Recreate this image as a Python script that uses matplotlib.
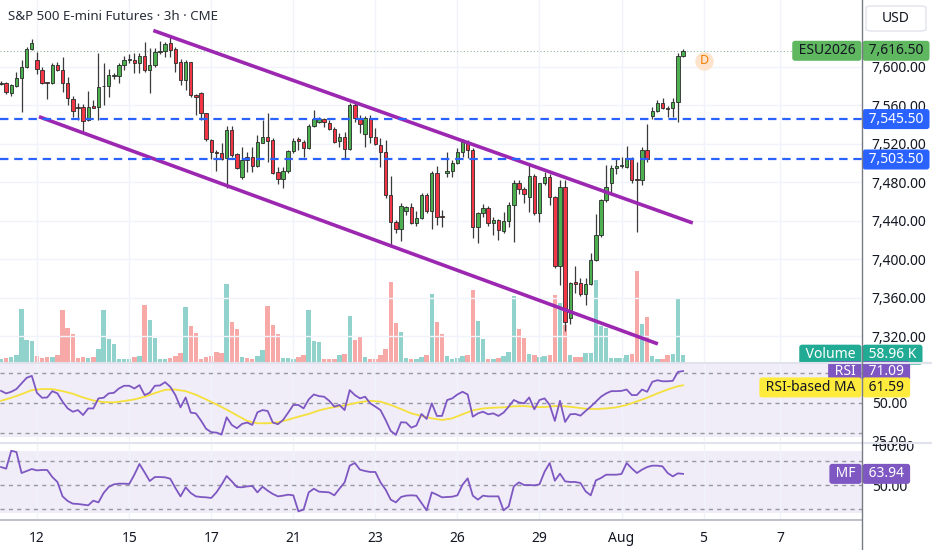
import numpy as np
import matplotlib.pyplot as plt
from matplotlib import transforms
from matplotlib.patches import FancyBboxPatch

plt.rcParams['font.family'] = ['Noto Sans', 'DejaVu Sans']

# 3h bars, oldest first
opens = [7582.0, 7582.7, 7573.0, 7579.9, 7587.9, 7600.0, 7618.0, 7606.9, 7596.5, 7584.1,
         7583.4, 7601.7, 7596.5, 7582.7, 7566.4, 7558.1, 7558.4, 7544.6, 7559.1, 7557.7,
         7579.6, 7579.9, 7590.3, 7590.3, 7601.4, 7607.3, 7607.3, 7604.2, 7611.1, 7596.5,
         7601.4, 7615.2, 7616.3, 7624.3, 7618.0, 7605.2, 7586.1, 7604.5, 7570.6, 7572.3,
         7551.5, 7523.8, 7511.3, 7510.6, 7504.7, 7534.2, 7509.2, 7485.0, 7505.8, 7506.5,
         7496.8, 7521.0, 7527.3, 7523.8, 7490.2, 7483.6, 7491.9, 7512.7, 7524.5, 7522.1,
         7515.1, 7538.3, 7542.8, 7545.3, 7541.1, 7534.9, 7522.4, 7526.6, 7514.1, 7560.2,
         7546.3, 7530.0, 7546.3, 7527.3, 7518.9, 7511.3, 7466.3, 7438.2, 7431.3, 7450.4,
         7454.5, 7437.2, 7442.7, 7466.3, 7450.4, 7489.2, 7444.5, 7489.8, 7492.0, 7499.5,
         7511.7, 7521.7, 7513.4, 7433.0, 7448.3, 7452.8, 7437.2, 7440.7, 7429.6, 7439.6,
         7456.2, 7479.5, 7472.5, 7464.2, 7486.4, 7447.6, 7478.8, 7485.7, 7464.2, 7392.9,
         7475.3, 7338.5, 7376.6, 7374.8, 7363.8, 7374.2, 7399.1, 7425.1, 7461.4, 7479.5,
         7494.4, 7497.1, 7496.1, 7503.7, 7483.3, 7482.2, 7513.4, 7548.7, 7554.3, 7561.9,
         7557.0, 7556.7, 7563.6, 7611.1]
highs = [7584.8, 7584.4, 7582.0, 7594.8, 7606.9, 7620.8, 7628.4, 7615.6, 7599.3, 7584.4,
         7603.5, 7605.2, 7609.7, 7588.9, 7569.5, 7562.6, 7561.2, 7575.1, 7565.4, 7613.9,
         7603.5, 7597.2, 7593.1, 7604.2, 7611.1, 7613.2, 7613.9, 7613.9, 7626.0, 7619.1,
         7619.1, 7627.0, 7626.0, 7631.2, 7620.1, 7607.6, 7606.9, 7605.2, 7571.6, 7574.0,
         7552.2, 7524.5, 7513.4, 7521.0, 7538.3, 7538.3, 7510.6, 7516.9, 7511.7, 7516.9,
         7529.0, 7544.6, 7551.5, 7525.5, 7496.1, 7496.1, 7513.4, 7525.5, 7527.3, 7523.8,
         7540.4, 7555.0, 7548.0, 7547.0, 7544.6, 7537.0, 7531.4, 7532.5, 7561.9, 7563.6,
         7549.8, 7548.7, 7549.8, 7535.9, 7525.5, 7523.8, 7486.4, 7440.7, 7458.7, 7455.2,
         7458.7, 7450.4, 7468.4, 7469.1, 7491.9, 7496.8, 7451.1, 7511.7, 7503.0, 7515.1,
         7525.2, 7523.8, 7515.1, 7449.3, 7457.3, 7455.2, 7444.1, 7441.4, 7449.3, 7459.7,
         7482.2, 7482.2, 7475.3, 7499.5, 7488.5, 7479.5, 7490.9, 7488.5, 7465.6, 7482.2,
         7482.2, 7376.6, 7392.9, 7380.0, 7380.0, 7406.0, 7446.9, 7462.1, 7497.8, 7497.8,
         7504.7, 7505.8, 7517.6, 7505.8, 7501.3, 7516.2, 7540.4, 7558.4, 7565.4, 7567.1,
         7559.1, 7567.1, 7613.9, 7618.0]
lows = [7580.6, 7571.6, 7569.5, 7579.2, 7553.2, 7599.0, 7617.3, 7592.4, 7582.0, 7566.7,
        7582.0, 7595.8, 7574.0, 7560.2, 7548.0, 7544.6, 7532.5, 7543.9, 7556.7, 7544.6,
        7560.2, 7568.8, 7586.8, 7582.7, 7596.5, 7603.5, 7593.8, 7593.1, 7594.8, 7572.3,
        7600.0, 7613.2, 7610.4, 7609.7, 7594.8, 7581.0, 7575.8, 7568.1, 7549.8, 7544.6,
        7523.1, 7503.7, 7491.9, 7503.0, 7473.6, 7506.5, 7493.3, 7482.9, 7490.9, 7490.9,
        7496.1, 7520.5, 7501.3, 7488.5, 7478.1, 7473.6, 7489.2, 7510.6, 7513.4, 7505.8,
        7514.5, 7537.7, 7541.8, 7537.7, 7534.2, 7521.0, 7516.9, 7503.7, 7513.4, 7542.8,
        7531.4, 7516.2, 7520.5, 7518.6, 7496.1, 7463.2, 7412.9, 7427.5, 7419.2, 7445.9,
        7436.5, 7434.4, 7441.3, 7448.3, 7431.7, 7435.1, 7433.7, 7485.7, 7485.7, 7498.9,
        7506.5, 7504.7, 7421.6, 7417.1, 7444.1, 7434.4, 7425.1, 7419.9, 7427.5, 7433.7,
        7418.1, 7467.7, 7458.7, 7449.3, 7445.9, 7438.9, 7477.0, 7456.2, 7390.4, 7373.1,
        7325.7, 7332.6, 7365.2, 7361.7, 7352.3, 7373.1, 7398.5, 7423.3, 7459.7, 7468.4,
        7488.5, 7494.4, 7494.4, 7479.5, 7428.5, 7477.0, 7501.3, 7545.3, 7553.2, 7555.7,
        7548.0, 7548.0, 7542.8, 7610.4]
closes = [7583.4, 7574.0, 7581.0, 7587.9, 7600.0, 7618.0, 7624.9, 7597.2, 7582.7, 7583.4,
          7601.7, 7596.5, 7582.7, 7567.1, 7554.3, 7557.4, 7543.9, 7558.4, 7557.0, 7578.5,
          7580.3, 7591.3, 7591.0, 7601.4, 7606.9, 7608.0, 7604.2, 7611.1, 7596.5, 7601.7,
          7615.6, 7615.9, 7623.6, 7617.3, 7604.2, 7586.1, 7605.2, 7570.6, 7568.8, 7551.5,
          7524.5, 7511.7, 7510.6, 7504.4, 7534.2, 7508.2, 7494.4, 7503.0, 7503.0, 7496.8,
          7521.4, 7527.3, 7523.1, 7489.8, 7482.9, 7491.9, 7512.7, 7523.1, 7522.8, 7515.1,
          7538.3, 7545.6, 7546.0, 7542.5, 7534.9, 7522.1, 7526.6, 7514.1, 7560.2, 7546.3,
          7540.4, 7546.3, 7527.3, 7519.6, 7511.3, 7466.3, 7438.2, 7431.3, 7455.6, 7454.2,
          7437.2, 7442.7, 7466.3, 7450.4, 7489.2, 7443.4, 7443.8, 7492.0, 7499.5, 7511.7,
          7522.1, 7513.4, 7433.0, 7448.3, 7452.8, 7437.2, 7440.7, 7430.3, 7439.6, 7456.2,
          7479.5, 7472.5, 7467.7, 7486.4, 7447.6, 7478.8, 7485.7, 7464.9, 7392.9, 7475.3,
          7335.0, 7375.5, 7374.2, 7363.8, 7374.2, 7399.1, 7425.1, 7461.4, 7474.6, 7494.4,
          7497.1, 7498.2, 7504.7, 7482.2, 7482.6, 7513.4, 7503.7, 7554.3, 7561.9, 7556.7,
          7556.4, 7563.6, 7611.1, 7616.5]
# volume in thousands
volumes = [27, 35, 40, 59, 429, 174, 166, 46, 32, 40, 40, 54, 415, 276, 228, 35, 40, 35, 40, 102,
           415, 188, 147, 27, 21, 27, 40, 46, 456, 335, 196, 27, 27, 35, 46, 72, 442, 292, 236, 27,
           40, 46, 78, 72, 630, 319, 265, 40, 35, 27, 46, 94, 448, 295, 228, 35, 35, 27, 40, 59,
           415, 166, 161, 21, 21, 21, 54, 67, 367, 180, 201, 40, 27, 21, 59, 102, 643, 314, 241, 35,
           27, 27, 40, 59, 544, 324, 228, 46, 27, 35, 46, 54, 582, 330, 185, 27, 27, 35, 46, 80,
           528, 268, 196, 67, 54, 40, 48, 59, 536, 474, 295, 59, 40, 40, 72, 75, 662, 287, 276, 35,
           35, 35, 54, 67, 732, 303, 362, 46, 27, 27, 54, 67, 515, 58.96]

rsi = [57.9, 56.2, 57.3, 59.1, 62.8, 66.6, 67.9, 56.6, 53.3, 53.5, 57.7, 56.2, 50.7, 46.2, 44.0,
       45.1, 41.8, 46.2, 46.2, 52.9, 53.3, 56.2, 56.6, 59.5, 61.3, 61.3, 59.5, 61.7, 55.1, 56.6,
       61.3, 61.5, 63.7, 60.6, 55.1, 46.9, 53.5, 43.4, 42.9, 38.1, 32.6, 30.4, 30.1, 28.8, 40.3,
       35.2, 33.0, 35.9, 36.8, 35.2, 43.6, 45.1, 44.5, 36.8, 35.7, 38.5, 43.4, 48.5, 48.5, 46.2,
       52.2, 55.5, 54.4, 54.0, 51.3, 47.4, 48.5, 45.1, 58.4, 55.1, 52.9, 54.0, 49.6, 47.4, 45.1,
       38.5, 31.2, 28.6, 37.0, 36.8, 33.4, 34.8, 42.5, 39.2, 49.6, 41.2, 41.2, 51.8, 52.9, 55.5,
       57.3, 55.5, 40.7, 42.9, 44.0, 42.3, 42.9, 41.2, 43.4, 47.4, 51.8, 50.2, 49.6, 53.5, 45.6,
       51.8, 52.9, 48.5, 37.9, 51.3, 37.2, 42.3, 42.5, 41.4, 44.5, 47.4, 50.7, 54.0, 56.2, 57.7,
       57.7, 57.9, 58.8, 55.1, 55.1, 58.8, 57.3, 63.9, 65.0, 64.3, 64.3, 64.6, 70.5, 71.09]
# RSI-based MA, read every second bar
ma_bars = list(range(0, 134, 2)) + [133]
rsi_ma = [51.3, 53.3, 55.7, 58.4, 59.1, 59.1, 57.7, 56.0, 53.5, 51.5, 50.4, 50.2, 51.1, 52.2,
          54.0, 56.4, 58.6, 58.8, 57.7, 55.3, 52.2, 48.9, 45.4, 41.6, 37.9, 36.3, 36.3, 37.0,
          38.7, 40.7, 42.5, 44.9, 46.5, 47.6, 48.9, 50.4, 51.3, 50.7, 48.5, 45.8, 42.9, 41.2,
          39.6, 38.5, 39.6, 42.3, 44.9, 46.2, 46.7, 46.9, 47.6, 47.8, 47.1, 47.1, 47.8, 47.6,
          46.9, 46.0, 45.8, 46.2, 46.9, 48.5, 50.9, 53.3, 56.2, 58.8, 61.0, 61.59]
mf = [72.5, 70.4, 92.9, 91.3, 65.0, 67.5, 70.0, 68.3, 68.8, 68.8, 60.0, 53.8, 35.8, 30.0, 26.7,
      26.3, 25.4, 24.6, 30.4, 28.3, 40.0, 47.5, 50.8, 51.7, 51.7, 51.3, 62.9, 76.3, 65.8, 55.0,
      60.0, 60.0, 59.6, 57.9, 46.3, 35.8, 47.1, 40.0, 35.8, 35.0, 34.6, 33.8, 40.8, 50.4, 61.3,
      54.6, 47.5, 47.1, 48.3, 48.8, 40.8, 47.9, 42.9, 38.8, 35.8, 36.7, 37.9, 37.1, 17.1, 19.2,
      40.8, 45.4, 41.7, 41.3, 40.8, 37.1, 45.4, 53.3, 74.2, 77.5, 69.2, 67.5, 66.3, 66.3, 53.3,
      44.2, 31.7, 28.3, 35.0, 36.7, 37.1, 36.7, 27.5, 18.3, 40.8, 37.9, 34.6, 35.0, 35.4, 37.1,
      50.4, 58.3, 36.7, 31.7, 36.7, 35.8, 35.8, 35.8, 18.3, 23.3, 48.3, 53.3, 50.0, 50.0, 49.6,
      50.8, 66.7, 77.5, 55.4, 64.2, 54.6, 53.8, 53.8, 52.5, 42.1, 37.1, 55.8, 58.8, 62.9, 62.9,
      62.9, 63.8, 77.5, 70.8, 65.0, 69.2, 72.5, 74.2, 74.2, 73.3, 65.0, 60.8, 64.6, 63.94]

date_labels = ['12', '15', '17', '21', '23', '26', '29', 'Aug', '5', '7']
date_bars = [7, 25, 41, 57, 73, 89, 105, 121, 137, 152]

# drawn channel lines (bar, price)
upper_line = ([29.7, 134.9], [7637.6, 7437.5])
lower_line = ([7.4, 128.1], [7548.0, 7311.8])
levels = [7545.50, 7503.50]
event_mark = ('D', 137.1, 7606.0)

price_ticks = np.arange(7320, 7601, 40)

# ---- layout
W, H = 932, 550
fig = plt.figure(figsize=(W / 100, H / 100), dpi=100)
xr = 862 / W
def ypos(top, bot):
    return 1 - bot / H, (bot - top) / H

b, h = ypos(0, 362)
ax_vol = fig.add_axes([0, b, xr, h])
ax = fig.add_axes([0, b, xr, h], facecolor='none')
b, h = ypos(364, 441)
ax_rsi = fig.add_axes([0, b, xr, h])
b, h = ypos(444, 519)
ax_mf = fig.add_axes([0, b, xr, h])

x = np.arange(len(closes))
xlim = (-0.2, 167.9)
grid_c = '#f0f3fa'
txt_c = '#131722'

up = np.array(closes) >= np.array(opens)

# volume overlay
ax_vol.bar(x, volumes, width=0.86, color=np.where(up, '#92d2cc', '#f7a9a7'))
ax_vol.set_xlim(xlim)
ax_vol.set_ylim(0, 2910)
ax_vol.axis('off')

# candles
body_lo = np.minimum(opens, closes)
body_h = np.maximum(np.abs(np.array(closes) - np.array(opens)), 0.7)
ax.vlines(x, lows, highs, color='#3a3a3a', lw=0.9, zorder=3)
ax.bar(x, body_h, bottom=body_lo, width=0.66, color=np.where(up, '#4caf50', '#f23645'),
       edgecolor='#2a2a2a', linewidth=0.6, zorder=4)

ax.plot(*upper_line, color='#9c27b0', lw=2.6, solid_capstyle='butt', zorder=5)
ax.plot(*lower_line, color='#9c27b0', lw=2.6, solid_capstyle='butt', zorder=5)
for lv in levels:
    ax.axhline(lv, color='#2962ff', lw=1.6, ls=(0, (3.8, 2.6)), zorder=5)
ax.axhline(closes[-1], color='#8fb89a', lw=0.8, ls=(0, (1, 2)), zorder=2)

ax.set_xlim(xlim)
ax.set_ylim(7293.0, 7669.3)
ax.set_yticks(price_ticks)
ax.set_yticklabels([f'{v:,.2f}' for v in price_ticks])
ax.set_xticks(date_bars)
ax.tick_params(axis='x', labelbottom=False, length=0)
ax.yaxis.tick_right()
ax.tick_params(axis='y', length=0, pad=7, labelsize=10, labelcolor=txt_c)
ax.grid(True, color=grid_c, lw=1, zorder=0)
ax.set_axisbelow(True)
for s in ax.spines.values():
    s.set_visible(False)

ax.text(8 / 862, 1 - 17 / 362, 'S&P 500 E-mini Futures · 3h · CME', transform=ax.transAxes,
        fontsize=9.6, color='#2a2e39', va='center', ha='left')

lab, ex, ey = event_mark
ax.scatter([ex], [ey], s=150, color='#fde3cc', zorder=6)
ax.text(ex, ey, lab, color='#f57c00', fontsize=9, ha='center', va='center', zorder=7)

# RSI pane
ax_rsi.axhspan(27.2, 75.8, color='#f0edf8', lw=0, zorder=0)
ax_rsi.plot(x, rsi, color='#7e57c2', lw=1.3, zorder=4)
ax_rsi.plot(ma_bars, rsi_ma, color='#f5e03c', lw=1.3, zorder=3)
for lv in (70, 50, 30):
    ax_rsi.axhline(lv, color='#9598a1', lw=1, ls=(0, (3, 3)), zorder=2)
ax_rsi.set_ylim(24.5, 75.8)
ax_rsi.set_yticks([50, 25])
ax_rsi.set_yticklabels(['50.00', '25.00'])

# MF pane
ax_mf.axhspan(15.0, 92.2, color='#f0edf8', lw=0, zorder=0)
ax_mf.plot(x, mf, color='#7e57c2', lw=1.3, zorder=4)
for lv in (80, 50, 20):
    ax_mf.axhline(lv, color='#9598a1', lw=1, ls=(0, (3, 3)), zorder=2)
ax_mf.set_ylim(7.5, 101.3)
ax_mf.set_yticks([100, 50])
ax_mf.set_yticklabels(['100.00', '50.00'])

for a in (ax_rsi, ax_mf):
    a.set_xlim(xlim)
    a.set_xticks(date_bars)
    a.grid(True, axis='x', color=grid_c, lw=1, zorder=0)
    a.set_axisbelow(True)
    a.yaxis.tick_right()
    a.tick_params(axis='y', length=0, pad=7, labelsize=10, labelcolor=txt_c)
    a.tick_params(axis='x', length=0, labelbottom=False)
    for s in a.spines.values():
        s.set_visible(False)
ax_mf.tick_params(axis='x', labelbottom=True, pad=9, labelsize=10, labelcolor=txt_c)
ax_mf.set_xticklabels(date_labels)

# frame lines
for yy in (363, 442.5):
    fig.add_artist(plt.Line2D([0, 1], [1 - yy / H] * 2, color='#e0e3eb', lw=1.5))
fig.add_artist(plt.Line2D([0, xr], [1 - 519.5 / H] * 2, color='#b2b5be', lw=1.2))
fig.add_artist(plt.Line2D([xr, xr], [0, 1], color='#787b86', lw=1))

# value tags on the scale
def tag(axis, yval, text, fc, tc, side='right', dy=0):
    tr = transforms.blended_transform_factory(fig.transFigure, axis.transData)
    xx = xr + 3 / W if side == 'right' else xr - 3 / W
    axis.annotate(' ' + text + ' ', (xx, yval), xycoords=tr, xytext=(0, dy),
                  textcoords='offset points', ha='left' if side == 'right' else 'right',
                  va='center', fontsize=10, color=tc, annotation_clip=False, zorder=20,
                  bbox=dict(boxstyle='round,pad=0.18,rounding_size=0.2', fc=fc, ec='none'))

tag(ax, closes[-1], '7,616.50', '#5fb760', txt_c)
tag(ax, closes[-1], 'ESU2026', '#5fb760', txt_c, side='left')
for lv in levels:
    tag(ax, lv, f'{lv:,.2f}', '#2962ff', 'white')
tag(ax_vol, volumes[-1], f'{volumes[-1]:.2f} K', '#22ab94', 'white')
tag(ax_vol, volumes[-1], 'Volume', '#22ab94', 'white', side='left')
tag(ax_rsi, rsi[-1], f'{rsi[-1]:.2f}', '#7e57c2', 'white')
tag(ax_rsi, rsi[-1], 'RSI', '#7e57c2', 'white', side='left')
tag(ax_rsi, rsi_ma[-1], f'{rsi_ma[-1]:.2f}', '#ffeb3b', txt_c, dy=-1.5)
tag(ax_rsi, rsi_ma[-1], 'RSI-based MA', '#ffeb3b', txt_c, side='left', dy=-1.5)
tag(ax_mf, mf[-1], f'{mf[-1]:.2f}', '#7e57c2', 'white')
tag(ax_mf, mf[-1], 'MF', '#7e57c2', 'white', side='left')

fig.patches.append(FancyBboxPatch((866 / W, 1 - 31 / H), 60 / W, 25 / H,
                                  boxstyle='round,pad=0,rounding_size=0.006',
                                  mutation_aspect=H / W * 1.0, transform=fig.transFigure,
                                  fc='white', ec='#e0e3eb', lw=1, figure=fig))
fig.text(896 / W, 1 - 18.5 / H, 'USD', fontsize=10, color=txt_c, ha='center', va='center')

fig.savefig('out.png', dpi=100)
